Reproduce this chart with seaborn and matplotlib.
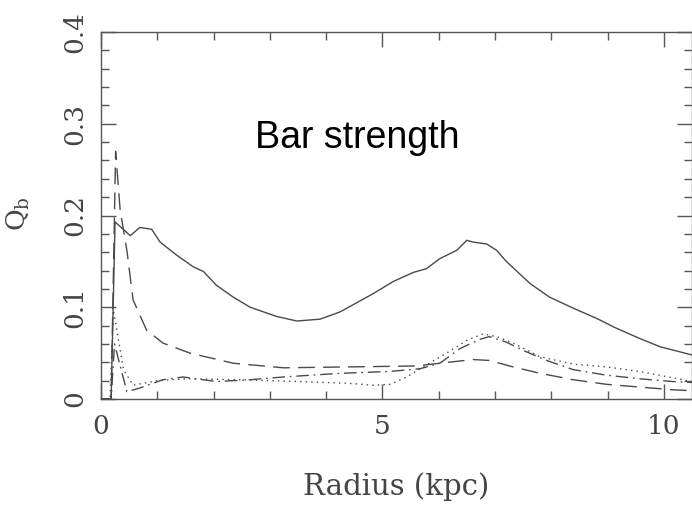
import matplotlib
matplotlib.use("Agg")
import matplotlib.pyplot as plt
import seaborn as sns
import pandas as pd
from matplotlib.ticker import MultipleLocator

# ---- data ----
x_solid = [0, 0.18, 0.25, 0.52, 0.69, 0.9, 1.05, 1.34, 1.64, 1.82, 2.05, 2.35, 2.65, 3.12, 3.48, 3.89,
           4.25, 4.84, 5.19, 5.55, 5.78, 6.02, 6.32, 6.5, 6.61, 6.85, 7.03, 7.2, 7.62, 7.97, 8.39, 8.8,
           9.16, 9.57, 9.93, 10.5]
y_solid = [0, 0, 0.193, 0.178, 0.187, 0.185, 0.171, 0.157, 0.144, 0.139, 0.124, 0.111, 0.1, 0.09, 0.085, 0.087,
           0.095, 0.115, 0.128, 0.138, 0.142, 0.153, 0.162, 0.173, 0.171, 0.169, 0.162, 0.15, 0.126, 0.111, 0.099, 0.088,
           0.077, 0.066, 0.057, 0.048]

x_dash = [0, 0.18, 0.26, 0.34, 0.46, 0.57, 0.81, 1.1, 1.58, 2.35, 3.24, 4.42, 5.6, 6.02, 6.61, 6.9, 7.32,
          7.8, 8.39, 8.98, 9.57, 10.17, 10.5]
y_dash = [0, 0, 0.27, 0.206, 0.162, 0.108, 0.075, 0.061, 0.05, 0.039, 0.034, 0.035, 0.036, 0.039, 0.043, 0.042, 0.035,
          0.028, 0.021, 0.016, 0.013, 0.01, 0.009]

x_dashdot = [0, 0.18, 0.24, 0.46, 0.69, 1.1, 1.46, 2.05, 2.65, 3.24, 4.25, 5.13, 5.67, 6.02, 6.38, 6.73, 6.9,
             7.2, 7.5, 7.92, 8.39, 8.98, 9.57, 10.17, 10.5]
y_dashdot = [0, 0, 0.06, 0.008, 0.012, 0.021, 0.024, 0.019, 0.021, 0.024, 0.028, 0.030, 0.033, 0.039, 0.055, 0.065, 0.068,
             0.062, 0.053, 0.042, 0.032, 0.026, 0.022, 0.019, 0.018]

x_dot = [0, 0.16, 0.22, 0.4, 0.57, 1.0, 1.5, 2.5, 3.53, 4.42, 4.84, 5.13, 5.43, 5.78, 6.14, 6.5, 6.79, 7.03,
         7.32, 7.8, 8.39, 8.98, 9.57, 10.17, 10.5]
y_dot = [0, 0, 0.097, 0.032, 0.015, 0.02, 0.022, 0.021, 0.019, 0.017, 0.015, 0.016, 0.024, 0.037, 0.05, 0.064, 0.071, 0.068,
         0.061, 0.046, 0.038, 0.035, 0.03, 0.023, 0.019]

x_ticks = [0, 5, 10]
y_ticks = [0, 0.1, 0.2, 0.3, 0.4]
y_tick_labels = ["0", "0.1", "0.2", "0.3", "0.4"]

sns.set_theme(style="ticks")
plt.rcParams["font.family"] = ["DejaVu Serif"]
plt.rcParams["mathtext.fontset"] = "dejavuserif"

fig = plt.figure(figsize=(6.92, 5.05), dpi=100)
ax = fig.add_axes([101 / 692, (505 - 399) / 505, (692 - 101) / 692, (399 - 32) / 505])

line_color = "#4a4a4a"
series = [
    (x_solid, y_solid, "-"),
    (x_dash, y_dash, (0, (12, 6))),
    (x_dashdot, y_dashdot, (0, (9, 3.5, 1.2, 3.5))),
    (x_dot, y_dot, (0, (1, 3))),
]
for xs, ys, ls in series:
    df = pd.DataFrame({"x": xs, "y": ys})
    sns.lineplot(data=df, x="x", y="y", ax=ax, color=line_color, linewidth=1.0,
                 linestyle=ls, estimator=None, sort=False)

ax.set_xlim(0, 10.5)
ax.set_ylim(0, 0.4)
ax.set_xticks(x_ticks)
ax.set_xticklabels([str(t) for t in x_ticks])
ax.set_yticks(y_ticks)
ax.set_yticklabels(y_tick_labels, rotation=90, va="center")
ax.xaxis.set_minor_locator(MultipleLocator(1))
ax.yaxis.set_minor_locator(MultipleLocator(0.02))

spine_color = "#555555"
for s in ax.spines.values():
    s.set_visible(True)
    s.set_color(spine_color)
    s.set_linewidth(1.0)

ax.tick_params(which="both", direction="in", top=True, right=True, color=spine_color, width=1.0,
               labelcolor="#444444", labelsize=19)
ax.tick_params(which="major", length=11)
ax.tick_params(which="minor", length=5.5)
ax.tick_params(axis="x", which="major", pad=11)
ax.tick_params(axis="y", which="major", pad=10)

ax.set_xlabel("Radius (kpc)", fontsize=21, color="#444444")
ax.xaxis.set_label_coords(0.5, (399 - 472) / 367)
ax.set_ylabel(r"Q$_\mathrm{b}$", fontsize=19, color="#444444")
ax.yaxis.set_label_coords((32 - 101) / 591, (399 - 214) / 367)

ax.text(4.55, 0.2736, "Bar strength", fontsize=27, family=["Liberation Sans"], color="black",
        ha="center", va="baseline")

fig.savefig("out.png", dpi=100)
